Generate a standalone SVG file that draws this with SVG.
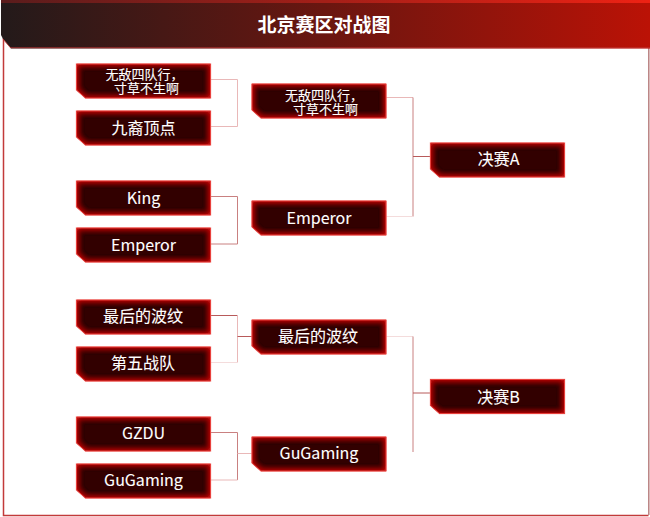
<svg xmlns="http://www.w3.org/2000/svg" width="650" height="517" viewBox="0 0 650 517">
<defs>
<linearGradient id="hdr" x1="0" y1="0" x2="1" y2="0"><stop offset="0" stop-color="#231a1a"/><stop offset="0.5" stop-color="#6a1610"/><stop offset="1" stop-color="#bb1206"/></linearGradient>
<linearGradient id="hdrTop" x1="0" y1="0" x2="1" y2="0"><stop offset="0" stop-color="#5a1c1c"/><stop offset="1" stop-color="#ee2214"/></linearGradient>
<filter id="glow" x="-10%" y="-30%" width="120%" height="160%">
<feGaussianBlur in="SourceAlpha" stdDeviation="3" result="b"/>
<feComposite in="SourceAlpha" in2="b" operator="out" result="edge"/>
<feComponentTransfer in="edge" result="edge2"><feFuncA type="linear" slope="1.700"/></feComponentTransfer>
<feFlood flood-color="#b80808"/>
<feComposite in2="edge2" operator="in" result="inner"/>
<feMerge><feMergeNode in="SourceGraphic"/><feMergeNode in="inner"/></feMerge>
</filter>
<filter id="halo" x="-10%" y="-30%" width="120%" height="160%"><feGaussianBlur stdDeviation="0.500"/></filter>
<polygon id="box" points="0,0 134,0 134,34 9,34 0,26"/>
</defs>
<style>
.n{fill:#300000;filter:url(#glow)}
.h{fill:none;stroke:#f58a85;stroke-width:1.500;opacity:.7;filter:url(#halo)}
.b{fill:none;stroke:#e8403c;stroke-width:1}
.t{fill:#fff;stroke:#fff;stroke-width:.1px;font-family:"Noto Sans CJK SC","Noto Sans",sans-serif;font-size:16px;text-anchor:middle}
.s{font-size:13px}
.c{fill:none;stroke-width:1}
.c1{stroke:#c98080}.c2{stroke:#e9b8b8}.c3{stroke:#f4dcdc}.c4{stroke:#b85a5a}
</style>
<g id="frame">
<path d="M3.500 38V515.500H648.500" fill="none" stroke="#c23a3a" stroke-width="1.500"/>
<path d="M648.800 46V515" fill="none" stroke="#b98080" stroke-width="1.500"/>
<polygon points="1,2 650,2 650,48.500 11,48.500 3,39 1,35" fill="url(#hdr)"/>
<path d="M3 39L10.500 47.800H650" fill="none" stroke="#c23a3a" stroke-width="1" opacity=".8"/>
<rect x="1" y="0" width="649" height="3" fill="url(#hdrTop)"/>
<text x="324" y="31.500" style="fill:#fff;font-family:'Noto Sans CJK SC',sans-serif;font-size:19px;font-weight:700;text-anchor:middle">北京赛区对战图</text>
</g>
<g id="connectors">
<path class="c c2" d="M210 79.500H237.500V126.500H210"/>
<path class="c c1" d="M210 196.500H237.500"/>
<path class="c c1" d="M237.500 196.500V244"/>
<path class="c c1" d="M210 244H237.500"/>
<path class="c c4" d="M210 315.500H237.500"/>
<path class="c c2" d="M237.500 315.500V362.500"/>
<path class="c c3" d="M210 362.500H237.500"/>
<path class="c c4" d="M237.500 336.500H252"/>
<path class="c c1" d="M210 432.500H237.500"/>
<path class="c c1" d="M237.500 432.500V480"/>
<path class="c c2" d="M210 480H237.500"/>
<path class="c c2" d="M237.500 453.500H252"/>
<path class="c c2" d="M386 97.500H413"/>
<path class="c c1" d="M413 97.500V216.500"/>
<path class="c c3" d="M386 216.500H413"/>
<path class="c c4" d="M413 156.500H430"/>
<path class="c c3" d="M386 336.500H413"/>
<path class="c c1" d="M413 336.500V452"/>
<path class="c c4" d="M413 393H430"/>
</g>
<g id="n1" transform="translate(76.500 64)"><use href="#box" class="h"/><use href="#box" class="n"/><use href="#box" class="b"/><text class="t s"><tspan x="68" y="15">无敌四队行，</tspan><tspan x="70" y="29">寸草不生啊</tspan></text></g>
<g id="n2" transform="translate(76.500 111)"><use href="#box" class="h"/><use href="#box" class="n"/><use href="#box" class="b"/><text class="t" x="67" y="22.500">九裔顶点</text></g>
<g id="n3" transform="translate(76.500 181)"><use href="#box" class="h"/><use href="#box" class="n"/><use href="#box" class="b"/><text class="t" x="67" y="22.500">King</text></g>
<g id="n4" transform="translate(76.500 228)"><use href="#box" class="h"/><use href="#box" class="n"/><use href="#box" class="b"/><text class="t" x="67" y="22.500">Emperor</text></g>
<g id="n5" transform="translate(76.500 300)"><use href="#box" class="h"/><use href="#box" class="n"/><use href="#box" class="b"/><text class="t" x="66.500" y="22">最后的波纹</text></g>
<g id="n6" transform="translate(76.500 347)"><use href="#box" class="h"/><use href="#box" class="n"/><use href="#box" class="b"/><text class="t" x="66.500" y="22">第五战队</text></g>
<g id="n7" transform="translate(76.500 417)"><use href="#box" class="h"/><use href="#box" class="n"/><use href="#box" class="b"/><text class="t" x="67" y="22">GZDU</text></g>
<g id="n8" transform="translate(76.500 464)"><use href="#box" class="h"/><use href="#box" class="n"/><use href="#box" class="b"/><text class="t" x="67" y="22">GuGaming</text></g>
<g id="n9" transform="translate(252 84)"><use href="#box" class="h"/><use href="#box" class="n"/><use href="#box" class="b"/><text class="t s"><tspan x="72" y="15.500">无敌四队行，</tspan><tspan x="73.500" y="29.500">寸草不生啊</tspan></text></g>
<g id="n10" transform="translate(252 201)"><use href="#box" class="h"/><use href="#box" class="n"/><use href="#box" class="b"/><text class="t" x="67" y="22.500">Emperor</text></g>
<g id="n11" transform="translate(252 320)"><use href="#box" class="h"/><use href="#box" class="n"/><use href="#box" class="b"/><text class="t" x="66" y="22">最后的波纹</text></g>
<g id="n12" transform="translate(252 437)"><use href="#box" class="h"/><use href="#box" class="n"/><use href="#box" class="b"/><text class="t" x="67" y="22">GuGaming</text></g>
<g id="n13" transform="translate(430.500 143)"><use href="#box" class="h"/><use href="#box" class="n"/><use href="#box" class="b"/><text class="t" x="68" y="22">决赛A</text></g>
<g id="n14" transform="translate(430.500 379.500)"><use href="#box" class="h"/><use href="#box" class="n"/><use href="#box" class="b"/><text class="t" x="68" y="23">决赛B</text></g>
</svg>
